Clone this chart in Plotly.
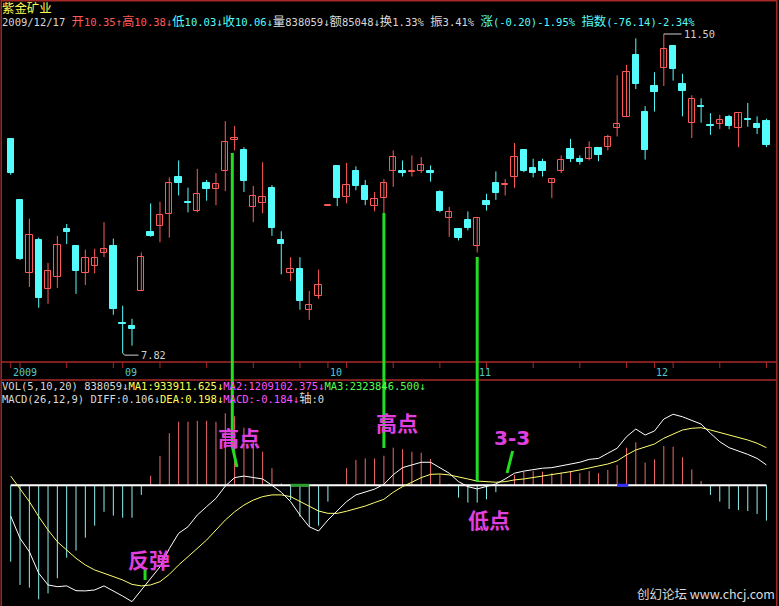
import math
import plotly.graph_objects as go

W, H = 779, 606

# ---------------- data ----------------
opens  = [10.13, 9.41, 8.61, 8.97, 8.45, 8.57, 9.08, 8.90, 8.61, 8.69,
          8.83, 8.90, 8.11, 8.08, 8.43, 9.05, 9.12, 9.25, 9.68, 9.38,
          9.29, 9.60, 9.54, 9.75, 10.12, 9.99, 9.33, 9.38, 9.55, 8.97,
          8.61, 8.66, 8.24, 8.38, 9.34, 9.80, 9.44, 9.74, 9.57, 9.34,
          9.43, 9.74, 9.74, 9.73, 9.74, 9.74, 9.50, 9.21, 9.09, 9.18,
          8.90, 9.40, 9.60, 9.58, 9.68, 9.99, 9.78, 9.85, 9.60, 9.75,
          10.01, 9.89, 9.89, 10.02, 10.03, 10.26, 10.40, 11.21, 10.46, 10.80,
          11.04, 11.33, 10.82, 10.33, 10.54, 10.30, 10.32, 10.40, 10.26, 10.37,
          10.32, 10.35]
highs  = [10.13, 9.41, 9.20, 8.99, 8.72, 9.01, 9.14, 8.90, 8.86, 8.87,
          9.16, 8.98, 8.28, 8.15, 8.83, 9.37, 9.39, 9.67, 9.87, 9.55,
          9.77, 9.64, 9.72, 10.35, 10.29, 10.03, 9.57, 9.85, 9.58, 9.06,
          8.78, 8.78, 8.43, 8.65, 9.34, 9.80, 9.84, 9.80, 9.64, 9.50,
          9.65, 9.99, 9.87, 9.93, 9.91, 9.81, 9.52, 9.33, 9.09, 9.28,
          9.21, 9.48, 9.74, 9.65, 10.08, 9.99, 9.89, 9.89, 9.66, 9.93,
          10.13, 9.93, 10.10, 10.02, 10.18, 10.94, 11.08, 11.44, 10.54, 10.98,
          11.50, 11.35, 10.96, 10.68, 10.64, 10.45, 10.43, 10.43, 10.45, 10.58,
          10.41, 10.38]
lows   = [9.70, 8.75, 8.47, 8.26, 8.30, 8.46, 8.92, 8.40, 8.49, 8.61,
          8.78, 8.19, 7.82, 7.89, 8.43, 9.00, 8.94, 8.99, 9.46, 9.27,
          9.27, 9.40, 9.35, 9.51, 9.99, 9.50, 9.16, 9.26, 9.01, 8.60,
          8.53, 8.24, 8.14, 8.35, 9.34, 9.34, 9.37, 9.52, 9.35, 9.28,
          9.26, 9.56, 9.68, 9.68, 9.72, 9.62, 9.27, 9.00, 8.96, 9.07,
          8.83, 9.29, 9.41, 9.46, 9.55, 9.73, 9.67, 9.68, 9.43, 9.72,
          9.85, 9.82, 9.87, 9.86, 9.99, 10.16, 10.40, 10.76, 9.88, 10.47,
          10.80, 10.87, 10.41, 10.14, 10.33, 10.18, 10.25, 10.25, 10.03, 10.28,
          10.19, 10.03]
closes = [9.72, 8.76, 9.02, 8.36, 8.64, 8.91, 9.05, 8.64, 8.77, 8.77,
          8.87, 8.25, 8.10, 8.05, 8.78, 9.01, 9.24, 9.60, 9.61, 9.37,
          9.48, 9.54, 9.59, 10.09, 10.14, 9.63, 9.45, 9.44, 9.10, 8.92,
          8.66, 8.33, 8.29, 8.49, 9.34, 9.43, 9.58, 9.57, 9.41, 9.42,
          9.60, 9.91, 9.72, 9.75, 9.81, 9.72, 9.28, 9.27, 8.99, 9.10,
          9.21, 9.35, 9.49, 9.59, 9.91, 9.74, 9.72, 9.74, 9.65, 9.87,
          9.89, 9.85, 10.02, 9.94, 10.15, 10.31, 10.98, 10.83, 10.00, 10.72,
          11.30, 11.03, 10.74, 10.63, 10.53, 10.29, 10.37, 10.29, 10.45, 10.36,
          10.26, 10.06]

macd_hist = [-0.398, -0.519, -0.533, -0.594, -0.563, -0.484, -0.377, -0.340, -0.273, -0.210,
             -0.138, -0.158, -0.169, -0.169, -0.050, 0.050, 0.153, 0.271, 0.331, 0.331,
             0.336, 0.336, 0.331, 0.375, 0.360, 0.300, 0.225, 0.175, 0.089, 0.010,
             -0.077, -0.163, -0.215, -0.210, -0.085, 0.005, 0.089, 0.132, 0.140, 0.140,
             0.154, 0.196, 0.188, 0.175, 0.170, 0.137, 0.057, 0.008, -0.064, -0.090,
             -0.090, -0.073, -0.036, 0.005, 0.054, 0.071, 0.074, 0.071, 0.063, 0.066,
             0.074, 0.063, 0.074, 0.063, 0.080, 0.106, 0.196, 0.224, 0.118, 0.135,
             0.205, 0.201, 0.146, 0.083, 0.023, -0.050, -0.085, -0.123, -0.129, -0.134,
             -0.149, -0.184]
diff = [-0.160, -0.276, -0.346, -0.458, -0.519, -0.528, -0.524, -0.549, -0.550, -0.545,
        -0.524, -0.549, -0.577, -0.606, -0.545, -0.490, -0.425, -0.330, -0.250, -0.216,
        -0.155, -0.111, -0.068, -0.004, 0.040, 0.048, 0.040, 0.033, 0.000, -0.036,
        -0.085, -0.155, -0.216, -0.238, -0.181, -0.135, -0.085, -0.050, -0.035, -0.020,
        0.005, 0.055, 0.092, 0.106, 0.120, 0.120, 0.092, 0.063, 0.019, -0.007,
        -0.019, -0.007, 0.007, 0.033, 0.063, 0.074, 0.083, 0.089, 0.092, 0.102,
        0.113, 0.120, 0.135, 0.140, 0.167, 0.193, 0.253, 0.293, 0.262, 0.283,
        0.345, 0.370, 0.357, 0.340, 0.319, 0.271, 0.227, 0.196, 0.179, 0.161,
        0.140, 0.106]
dea = [0.048, -0.016, -0.085, -0.163, -0.233, -0.294, -0.337, -0.380, -0.415, -0.441,
       -0.458, -0.476, -0.493, -0.516, -0.524, -0.519, -0.502, -0.464, -0.415, -0.372,
       -0.330, -0.285, -0.233, -0.181, -0.138, -0.103, -0.077, -0.059, -0.050, -0.050,
       -0.059, -0.085, -0.111, -0.134, -0.146, -0.146, -0.135, -0.123, -0.108, -0.090,
       -0.073, -0.036, -0.007, 0.016, 0.040, 0.057, 0.059, 0.054, 0.045, 0.033,
       0.022, 0.019, 0.016, 0.019, 0.028, 0.033, 0.040, 0.048, 0.054, 0.063,
       0.071, 0.080, 0.089, 0.100, 0.111, 0.127, 0.158, 0.184, 0.201, 0.215,
       0.245, 0.266, 0.288, 0.297, 0.300, 0.288, 0.276, 0.262, 0.250, 0.236,
       0.219, 0.196]

date_labels = ["2009", "09", "10", "11", "12"]
date_index = [0, 12, 34, 50, 69]

low_label, low_index = "7.82", 12
high_label, high_index = "11.50", 70

# hand-drawn green marker lines (candle index positions)
mark_index = [23.75, 40, 50]

# ---------------- geometry helpers ----------------
def px(x):
    return x / W

def py(y):
    return 1 - y / H

N = len(closes)
idx = list(range(N))
X0, DX = 10.7, 9.33                       # pixel of candle 0, pixel step
x_range = [(0 - X0) / DX, (W - X0) / DX]

# price pane: 11.50 at y=34px, 7.82 at y=353px, log scale
ppd = (353 - 34) / (math.log10(11.50) - math.log10(7.82))   # pixels per decade
P_TOP, P_BOT = 30, 361
y_range = [math.log10(11.50) - (P_BOT - 34) / ppd, math.log10(11.50) + (34 - P_TOP) / ppd]

# MACD pane: zero at y=485.3px, 192 px per unit
M_TOP, M_BOT, Z0, PPU = 405, 606, 485.3, 192.0
y2_range = [(Z0 - M_BOT) / PPU, (Z0 - M_TOP) / PPU]

RED = "#ff5a5a"
CYAN = "#54fcfc"
HRED = "#f06a6a"
HCYAN = "#8ff0f0"
FRAME = "#a82828"
GREEN = "#22dd22"
MAG = "#e040e0"

fig = go.Figure()

up = [i for i in idx if closes[i] >= opens[i]]
dn = [i for i in idx if closes[i] < opens[i]]

def wick_xy(sel):
    xs, ys = [], []
    for i in sel:
        xs += [i, i, None]
        ys += [lows[i], highs[i], None]
    return xs, ys

MINH = 0.012
for sel, col in ((up, RED), (dn, CYAN)):
    wx, wy = wick_xy(sel)
    fig.add_trace(go.Scatter(x=wx, y=wy, mode="lines", line=dict(color=col, width=1),
                             xaxis="x", yaxis="y", hoverinfo="skip"))
for sel, col, fill in ((up, RED, "black"), (dn, CYAN, CYAN)):
    base = [min(opens[i], closes[i]) for i in sel]
    hgt = [max(abs(closes[i] - opens[i]), MINH) for i in sel]
    fig.add_trace(go.Bar(x=sel, base=base, y=hgt, width=0.68,
                         marker=dict(color=fill, line=dict(color=col, width=1)),
                         xaxis="x", yaxis="y", hoverinfo="skip"))

# MACD histogram
for sign, col in ((1, HRED), (-1, HCYAN)):
    xs, ys = [], []
    for i in idx:
        v = macd_hist[i]
        if v * sign > 0:
            xs += [i, i, None]
            ys += [0, v, None]
    fig.add_trace(go.Scatter(x=xs, y=ys, mode="lines", line=dict(color=col, width=1),
                             xaxis="x2", yaxis="y2", hoverinfo="skip"))

fig.add_trace(go.Scatter(x=[0, N - 1], y=[0, 0], mode="lines", line=dict(color="white", width=2),
                         xaxis="x2", yaxis="y2", hoverinfo="skip"))
fig.add_trace(go.Scatter(x=idx, y=dea, mode="lines", line=dict(color="#ffff70", width=1),
                         xaxis="x2", yaxis="y2", hoverinfo="skip"))
fig.add_trace(go.Scatter(x=idx, y=diff, mode="lines", line=dict(color="white", width=1),
                         xaxis="x2", yaxis="y2", hoverinfo="skip"))

shapes = []
def hline(y, x0=1.5, x1=776.5, color=FRAME, w=1.5):
    shapes.append(dict(type="line", xref="paper", yref="paper", x0=px(x0), x1=px(x1),
                       y0=py(y), y1=py(y), line=dict(color=color, width=w), layer="above"))
def vline(x, y0, y1, color=FRAME, w=1.5):
    shapes.append(dict(type="line", xref="paper", yref="paper", x0=px(x), x1=px(x),
                       y0=py(y0), y1=py(y1), line=dict(color=color, width=w), layer="above"))

# frame
hline(0.8)
vline(1.2, 0, 606)
vline(776.8, 0, 606)
hline(362)
hline(380)
# weekly ticks on the date strip
for i in list(range(1, N, 5)) + date_index:
    shapes.append(dict(type="line", xref="x", yref="paper", x0=i, x1=i, y0=py(362), y1=py(368),
                       line=dict(color=FRAME, width=1)))

# hi/lo connectors
shapes.append(dict(type="path", xref="x", yref="y",
                   path=f"M {low_index},{lows[low_index]} L {low_index + 0.2},7.80 L {low_index + 1.7},7.80",
                   line=dict(color="#d0d0d0", width=1)))
shapes.append(dict(type="line", xref="x", yref="y", x0=high_index, x1=high_index + 1.9,
                   y0=highs[high_index], y1=highs[high_index], line=dict(color="#d0d0d0", width=1)))

# green hand-drawn lines
def gline(xa, ya, xb, yb):
    shapes.append(dict(type="line", xref="x", yref="paper", x0=xa, x1=xb, y0=py(ya), y1=py(yb),
                       line=dict(color=GREEN, width=3), layer="above"))
gline(mark_index[0], 153, mark_index[0], 446)
gline(mark_index[0], 446, mark_index[0] + 0.5, 467)
gline(mark_index[1], 213, mark_index[1], 448)
gline(mark_index[2], 257, mark_index[2], 482)
gline(53.8, 451, 53.2, 473)
gline(14.4, 568, 14.4, 580)
# tiny coloured ticks on zero axis
shapes.append(dict(type="line", xref="x2", yref="y2", x0=30, x1=32, y0=0, y1=0,
                   line=dict(color="#2fa02f", width=3)))
shapes.append(dict(type="line", xref="x2", yref="y2", x0=65, x1=66.2, y0=0, y1=0,
                   line=dict(color="#3030ff", width=3)))

ann = []
MONO = "DejaVu Sans Mono, Noto Sans Mono CJK SC, Noto Sans CJK SC, monospace"
LAT = 10.5
CJK = 12.4

def rich(segments, cjk_size=CJK):
    out = []
    for text, col in segments:
        run, cj = "", None
        for ch in text:
            c = ord(ch) > 0x2E80
            if cj is None or c == cj:
                run += ch
            else:
                out.append((run, col, cj))
                run = ch
            cj = c
        if run:
            out.append((run, col, cj))
    html = ""
    for run, col, c in out:
        if c:
            html += f"<span style='color:{col};font-size:{cjk_size}px'>{run}</span>"
        else:
            html += f"<span style='color:{col}'>{run}</span>"
    return html

def text(x, y, t, size=LAT, color="white", family=MONO, xanchor="left"):
    ann.append(dict(x=px(x), y=py(y), xref="paper", yref="paper", text=t, showarrow=False,
                    xanchor=xanchor, yanchor="middle", font=dict(size=size, color=color, family=family),
                    borderpad=0))

WH = "#d8d8d8"
text(1, 8, rich([("紫金矿业", "#ffff54")]))
text(1, 21, rich([("2009/12/17 ", WH), ("开10.35↑高10.38↓", RED), ("低10.03↓收10.06↓", CYAN),
                  ("量838059↓额85048↓换1.33% 振3.41% ", WH),
                  ("涨(-0.20)-1.95% 指数(-76.14)-2.34%", CYAN)]))
text(1, 385.5, rich([("VOL(5,10,20) 838059↓", WH), ("MA1:933911.625↓", "#ffff54"),
                     ("MA2:1209102.375↓", "#ff54ff"), ("MA3:2323846.500↓", "#54ff54")]))
text(1, 398.5, rich([("MACD(26,12,9) DIFF:0.106↓", WH), ("DEA:0.198↓", "#ffff54"),
                     ("MACD:-0.184↓", "#ff54ff"), ("轴:0", WH)]))

for lab, i in zip(date_labels, date_index):
    ann.append(dict(x=i, y=py(372), xref="x", yref="paper", text=lab, showarrow=False,
                    xanchor="left", yanchor="middle",
                    font=dict(size=10, color="#54c8c8", family=MONO)))

ann.append(dict(x=low_index + 1.75, y=math.log10(7.80), xref="x", yref="y", text=low_label,
                showarrow=False, xanchor="left", yanchor="middle",
                font=dict(size=10.3, color="#d0d0d0", family=MONO)))
ann.append(dict(x=high_index + 2.0, y=math.log10(highs[high_index]), xref="x", yref="y", text=high_label,
                showarrow=False, xanchor="left", yanchor="middle",
                font=dict(size=10.3, color="#d0d0d0", family=MONO)))

BIG = "Noto Sans CJK SC, sans-serif"
text(239, 437, "<b>高点</b>", size=21, color=MAG, family=BIG, xanchor="center")
text(397, 422, "<b>高点</b>", size=21, color=MAG, family=BIG, xanchor="center")
text(489, 519, "<b>低点</b>", size=21, color=MAG, family=BIG, xanchor="center")
text(512, 438, "<b>3-3</b>", size=20, color=MAG, family="DejaVu Sans", xanchor="center")
text(149, 559, "<b>反弹</b>", size=21, color=MAG, family=BIG, xanchor="center")

text(776, 593, "创幻论坛 www.chcj.com", size=12.5, color="#dcdcdc", family="Noto Sans CJK SC", xanchor="right")

fig.update_layout(
    width=W, height=H, margin=dict(l=0, r=0, t=0, b=0),
    paper_bgcolor="black", plot_bgcolor="black", showlegend=False,
    barmode="overlay", bargap=0,
    xaxis=dict(range=x_range, visible=False, anchor="y", domain=[0, 1]),
    yaxis=dict(type="log", range=y_range, visible=False, domain=[py(P_BOT), py(P_TOP)]),
    xaxis2=dict(range=x_range, visible=False, anchor="y2", matches="x", domain=[0, 1]),
    yaxis2=dict(range=y2_range, visible=False, domain=[0, py(M_TOP)]),
    shapes=shapes, annotations=ann,
)

fig.write_html("out.html", config={"displayModeBar": False},
               post_script="document.body.style.margin='0';document.body.style.overflow='hidden';")
